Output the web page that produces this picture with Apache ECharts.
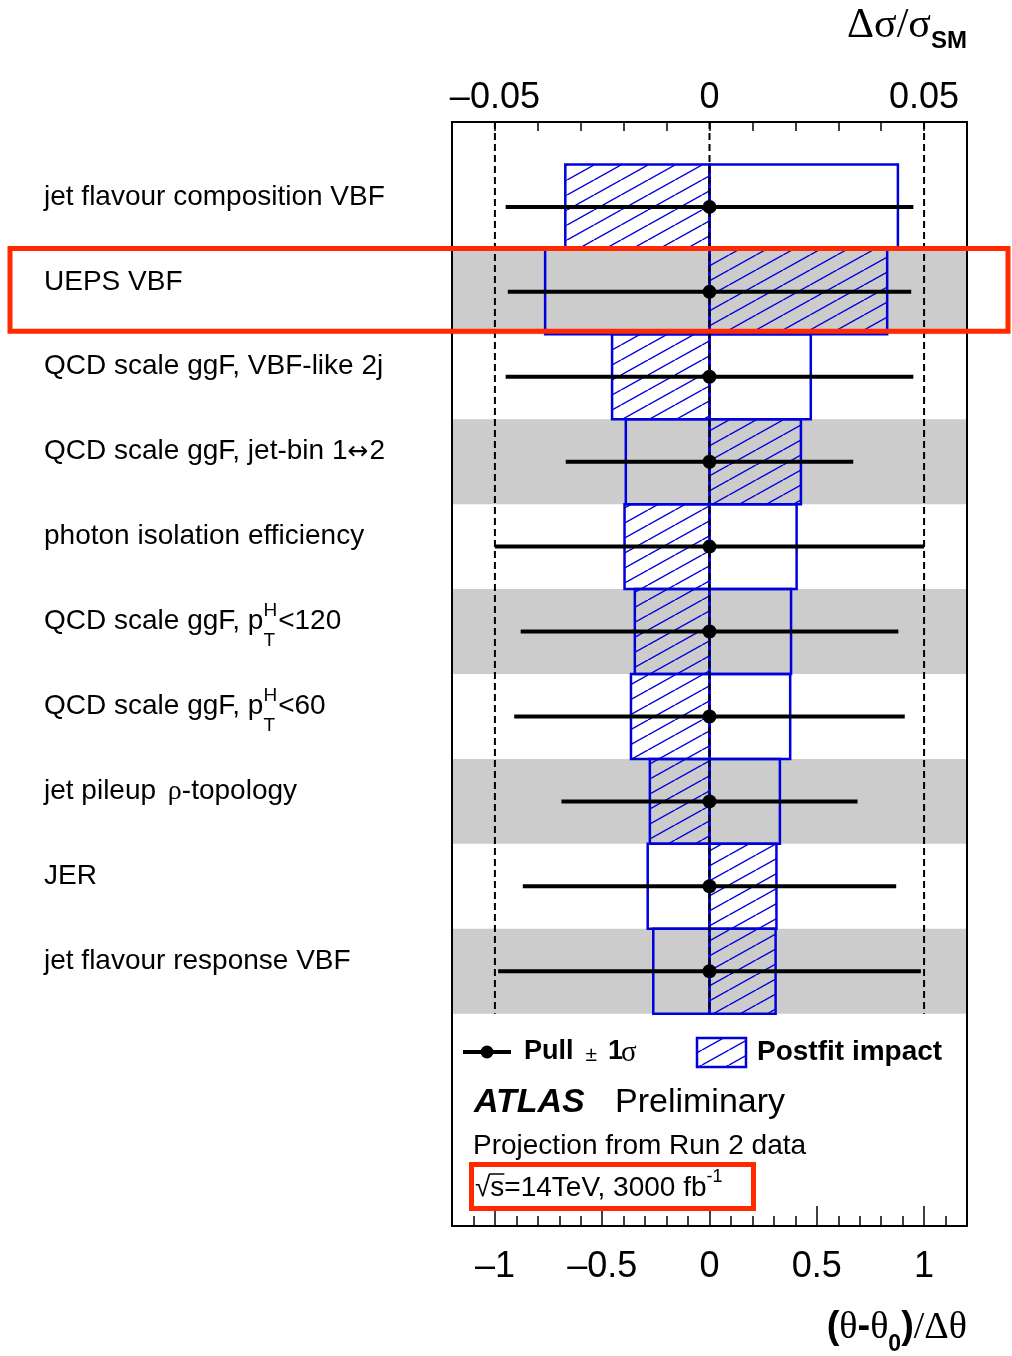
<!DOCTYPE html>
<html>
<head>
<meta charset="utf-8">
<script src="https://cdn.jsdelivr.net/npm/echarts@6/dist/echarts.min.js"></script>
<style>
  html, body { margin: 0; padding: 0; background: #fff; }
  #chart { width: 1012px; height: 1356px; }
</style>
</head>
<body>
<div id="chart"></div>
<script>
// nuisance parameters, top to bottom (ROOT-like markup for special glyphs)
const labels = [
  "jet flavour composition VBF",
  "UEPS VBF",
  "QCD scale ggF, VBF-like 2j",
  "QCD scale ggF, jet-bin 1#leftrightarrow2",
  "photon isolation efficiency",
  "QCD scale ggF, p_{T}^{H}<120",
  "QCD scale ggF, p_{T}^{H}<60",
  "jet pileup #rho-topology",
  "JER",
  "jet flavour response VBF"
];
// postfit impact on Δσ/σSM (open box = +1σ, hatched box = -1σ)
const impactUp = [0.0439, -0.0383, 0.0236, -0.0195, 0.0203, 0.0190, 0.0188, 0.0164, -0.0144, -0.0131];
const impactDown = [-0.0336, 0.0414, -0.0227, 0.0213, -0.0198, -0.0174, -0.0183, -0.0139, 0.0156, 0.0154];
// pulls (θ-θ0)/Δθ and their ±1σ
const pulls = [0, 0, 0, 0, 0, 0, 0, 0, 0, 0];
const pullErr = [0.95, 0.94, 0.95, 0.67, 1.0, 0.88, 0.91, 0.69, 0.87, 0.985];

const refLines = [-1, 0, 1];
const bottomLabelValues = [-1, -0.5, 0, 0.5, 1];
const bottomMajorTicks = [-1, -0.5, 0, 0.5, 1];
const bottomMinorTicks = [-1.1, -0.9, -0.8, -0.7, -0.6, -0.4, -0.3, -0.2, -0.1,
  0.1, 0.2, 0.3, 0.4, 0.6, 0.7, 0.8, 0.9, 1.1];
const topLabelValues = [-0.05, 0, 0.05];
const topTicks = [-0.05, -0.04, -0.03, -0.02, -0.01, 0, 0.01, 0.02, 0.03, 0.04, 0.05];

const rows = labels.map((_, i) => i);
const BLUE = "#0000dd";
const GREY = "#cccccc";
const RED = "#ff2a00";
const sans = '"Liberation Sans", Arial, Helvetica, sans-serif';
const serif = '"Liberation Serif", "Times New Roman", serif';
const font = (size, family, style) => (style ? style + " " : "") + size + "px " + family;

const measureCtx = document.createElement("canvas").getContext("2d");
const textWidth = (text, f) => {
  measureCtx.font = f;
  return measureCtx.measureText(text).width;
};

// hatch tile for the "postfit impact" boxes
const hatch = (() => {
  const c = document.createElement("canvas");
  c.width = 27;
  c.height = 15;
  const g = c.getContext("2d");
  g.strokeStyle = BLUE;
  g.lineWidth = 1.4;
  [-27, 0, 27].forEach((o) => {
    g.beginPath();
    g.moveTo(o, 15);
    g.lineTo(o + 27, 0);
    g.stroke();
  });
  return { image: c, repeat: "repeat" };
})();

// lay out a run of text pieces left to right (or ending at x if alignRight)
const layoutRuns = (x, y, parts, alignRight) => {
  const widthOf = (p) =>
    p.stack ? Math.max(...p.stack.map((s) => textWidth(s.text, s.font))) : textWidth(p.text, p.font);
  let cx = x;
  if (alignRight) cx = x - parts.reduce((s, p) => s + widthOf(p) + (p.gap || 0), 0);
  const els = [];
  parts.forEach((p) => {
    (p.stack || [p]).forEach((s) => {
      els.push({
        type: "text",
        silent: true,
        style: {
          text: s.text,
          x: cx,
          y: y + (s.dy || 0),
          font: s.font,
          fill: "#000",
          align: "left",
          verticalAlign: "middle",
        },
      });
    });
    cx += widthOf(p) + (p.gap || 0);
  });
  return els;
};

const labelParts = (str) =>
  str
    .split(/(#rho|#leftrightarrow|_\{[^}]*\}\^\{[^}]*\})/)
    .filter((s) => s)
    .map((tok) => {
      if (tok === "#rho") return { text: "ρ", font: font(28, serif), dy: 0 };
      if (tok === "#leftrightarrow") return { text: "↔", font: font(25, '"DejaVu Sans", sans-serif'), dy: 1, gap: 1 };
      const m = tok.match(/^_\{([^}]*)\}\^\{([^}]*)\}$/);
      if (m)
        return {
          stack: [
            { text: m[2], font: font(19, sans), dy: -11 },
            { text: m[1], font: font(19, sans), dy: 19 },
          ],
          gap: 1,
        };
      return { text: tok, font: font(28, sans), gap: tok.endsWith(" ") ? 4 : 0 };
    });

const fmt = (v) => (v < 0 ? "–" + String(-v) : String(v));

const chart = echarts.init(document.getElementById("chart"));

const option = {
  animation: false,
  backgroundColor: "#fff",
  grid: {
    left: 452,
    top: 122,
    right: 45,
    bottom: 130,
    show: true,
    borderColor: "#000",
    borderWidth: 2,
    backgroundColor: "transparent",
    outerBoundsMode: "none",
  },
  xAxis: [
    {
      type: "value",
      min: -1.2,
      max: 1.2,
      position: "bottom",
      splitLine: { show: false },
      axisLine: { show: false, onZero: false },
      axisTick: {
        show: true,
        inside: true,
        length: 10,
        customValues: bottomMinorTicks,
        lineStyle: { color: "#000", width: 1.5 },
      },
      axisLabel: {
        customValues: bottomLabelValues,
        formatter: fmt,
        fontSize: 36,
        fontFamily: sans,
        color: "#000",
        margin: 23,
      },
    },
    {
      type: "value",
      min: -1.2,
      max: 1.2,
      position: "bottom",
      splitLine: { show: false },
      axisLine: { show: false, onZero: false },
      axisTick: {
        show: true,
        inside: true,
        length: 20,
        customValues: bottomMajorTicks,
        lineStyle: { color: "#000", width: 1.5 },
      },
      axisLabel: { show: false },
    },
    {
      type: "value",
      min: -0.06,
      max: 0.06,
      position: "top",
      splitLine: { show: false },
      axisLine: { show: false, onZero: false },
      axisTick: {
        show: true,
        inside: true,
        length: 9,
        customValues: topTicks,
        lineStyle: { color: "#000", width: 1.5 },
      },
      axisLabel: {
        customValues: topLabelValues,
        formatter: fmt,
        fontSize: 36,
        fontFamily: sans,
        color: "#000",
        margin: 6,
      },
    },
  ],
  yAxis: {
    type: "value",
    min: -1,
    max: 12,
    inverse: true,
    axisLine: { show: false, onZero: false },
    axisTick: { show: false },
    axisLabel: { show: false },
    splitLine: { show: false },
  },
  series: [
    {
      name: "bands",
      type: "custom",
      xAxisIndex: 0,
      z: 1,
      data: rows.map((i) => [0, i]),
      encode: { x: 0, y: 1 },
      renderItem: (params, api) => {
        const i = api.value(1);
        if (i % 2 === 0) return null;
        const cs = params.coordSys;
        const y0 = api.coord([0, i - 0.5])[1];
        const y1 = api.coord([0, i + 0.5])[1];
        return {
          type: "rect",
          shape: { x: cs.x + 1, y: y0, width: cs.width - 2, height: y1 - y0 },
          style: { fill: GREY },
        };
      },
    },
    {
      name: "Postfit impact",
      type: "custom",
      xAxisIndex: 2,
      z: 2,
      data: rows.map((i) => [impactUp[i], impactDown[i], i]),
      encode: { x: [0, 1], y: 2 },
      renderItem: (params, api) => {
        const i = api.value(2);
        const y0 = api.coord([0, i - 0.5])[1];
        const y1 = api.coord([0, i + 0.5])[1];
        const x0 = api.coord([0, i])[0];
        const xu = api.coord([api.value(0), i])[0];
        const xd = api.coord([api.value(1), i])[0];
        const box = (xa, fill) => ({
          type: "rect",
          shape: { x: Math.min(x0, xa), y: y0, width: Math.abs(xa - x0), height: y1 - y0 },
          style: { fill: fill, stroke: BLUE, lineWidth: 2.5 },
        });
        return { type: "group", children: [box(xu, "none"), box(xd, hatch)] };
      },
    },
    {
      name: "reference",
      type: "custom",
      xAxisIndex: 0,
      z: 3,
      data: refLines.map((v) => [v, 0]),
      encode: { x: 0, y: 1 },
      renderItem: (params, api) => {
        const v = api.value(0);
        const p0 = api.coord([v, -1]);
        const p1 = api.coord([v, rows.length - 0.5]);
        return {
          type: "line",
          shape: { x1: p0[0], y1: p0[1], x2: p1[0], y2: p1[1] },
          style: { stroke: "#000", lineWidth: 2, lineDash: [7, 4] },
        };
      },
    },
    {
      name: "Pull",
      type: "custom",
      xAxisIndex: 0,
      z: 4,
      data: rows.map((i) => [pulls[i], pullErr[i], i]),
      encode: { x: 0, y: 2 },
      renderItem: (params, api) => {
        const p = api.value(0);
        const e = api.value(1);
        const i = api.value(2);
        const c = api.coord([p, i]);
        const lo = api.coord([p - e, i]);
        const hi = api.coord([p + e, i]);
        return {
          type: "group",
          children: [
            {
              type: "line",
              shape: { x1: lo[0], y1: c[1], x2: hi[0], y2: c[1] },
              style: { stroke: "#000", lineWidth: 4 },
            },
            { type: "circle", shape: { cx: c[0], cy: c[1], r: 7 }, style: { fill: "#000" } },
          ],
        };
      },
    },
    {
      name: "labels",
      type: "custom",
      xAxisIndex: 0,
      z: 5,
      clip: false,
      data: rows.map((i) => [0, i]),
      encode: { x: 0, y: 1 },
      renderItem: (params, api) => {
        const i = api.value(1);
        const y = api.coord([0, i])[1] - 10;
        return { type: "group", children: layoutRuns(44, y, labelParts(labels[i])) };
      },
    },
  ],
};

chart.setOption(option);

// annotations, legend and axis titles
const rowTop = chart.convertToPixel({ yAxisIndex: 0 }, 0.5);
const rowBottom = chart.convertToPixel({ yAxisIndex: 0 }, 1.5);
const sqrtX = 475;
const sqrtW = textWidth("√", font(28, sans));
const sW = textWidth("s", font(28, sans));

const graphic = [
  // axis titles
  {
    type: "group",
    children: layoutRuns(
      967,
      26,
      [
        { text: "Δσ/σ", font: font(42, serif) },
        { text: "SM", font: font(24, sans, "bold"), dy: 15 },
      ],
      true
    ),
  },
  {
    type: "group",
    children: layoutRuns(
      967,
      1328,
      [
        { text: "(", font: font(38, sans, "bold") },
        { text: "θ", font: font(38, serif) },
        { text: "-", font: font(38, sans, "bold") },
        { text: "θ", font: font(38, serif) },
        { text: "0", font: font(23, sans, "bold"), dy: 17 },
        { text: ")", font: font(38, sans, "bold") },
        { text: "/", font: font(38, serif) },
        { text: "Δθ", font: font(38, serif) },
      ],
      true
    ),
  },
  // legend
  { type: "line", shape: { x1: 463, y1: 1052, x2: 511, y2: 1052 }, style: { stroke: "#000", lineWidth: 4 } },
  { type: "circle", shape: { cx: 487, cy: 1052, r: 6.5 }, style: { fill: "#000" } },
  {
    type: "group",
    children: layoutRuns(524, 1052, [
      { text: "Pull", font: font(27, sans, "bold"), gap: 12 },
      { text: "±", font: font(21, sans), dy: 3, gap: 11 },
      { text: "1", font: font(27, sans, "bold"), gap: -2 },
      { text: "σ", font: font(29, serif), dy: 1 },
    ]),
  },
  {
    type: "rect",
    shape: { x: 697, y: 1038, width: 49, height: 29 },
    style: { fill: hatch, stroke: BLUE, lineWidth: 2.5 },
  },
  { type: "group", children: layoutRuns(757, 1052, [{ text: "Postfit impact", font: font(28, sans, "bold") }]) },
  // ATLAS label
  { type: "group", children: layoutRuns(474, 1103, [{ text: "ATLAS", font: font(34, sans, "italic bold") }]) },
  { type: "group", children: layoutRuns(615, 1103, [{ text: "Preliminary", font: font(34, sans) }]) },
  { type: "group", children: layoutRuns(473, 1146, [{ text: "Projection from Run 2 data", font: font(28, sans) }]) },
  {
    type: "group",
    children: layoutRuns(sqrtX, 1188, [
      { text: "√", font: font(28, sans) },
      { text: "s=14TeV, 3000 fb", font: font(28, sans) },
      { text: "-1", font: font(18, sans), dy: -11 },
    ]),
  },
  {
    type: "line",
    shape: { x1: sqrtX + sqrtW - 1, y1: 1174, x2: sqrtX + sqrtW + sW, y2: 1174 },
    style: { stroke: "#000", lineWidth: 1.5 },
  },
  // red highlight boxes
  {
    type: "rect",
    z: 100,
    shape: { x: 10, y: rowTop - 1, width: 998, height: rowBottom - rowTop - 2 },
    style: { fill: "none", stroke: RED, lineWidth: 5 },
  },
  {
    type: "rect",
    z: 100,
    shape: { x: 471.5, y: 1164.5, width: 282, height: 44 },
    style: { fill: "none", stroke: RED, lineWidth: 5 },
  },
];

chart.setOption({ graphic: graphic });
</script>
</body>
</html>
